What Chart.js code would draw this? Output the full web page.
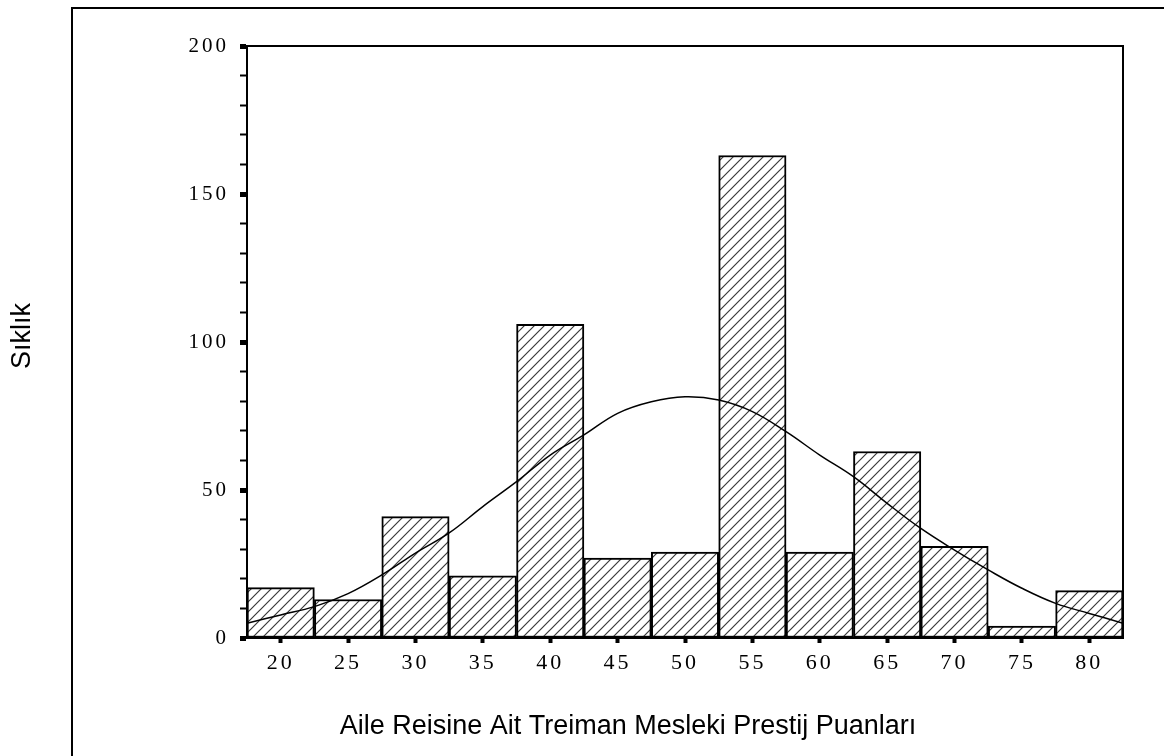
<!DOCTYPE html>
<html>
<head>
<meta charset="utf-8">
<script src="https://cdn.jsdelivr.net/npm/chart.js@4/dist/chart.umd.min.js"></script>
<style>
  html, body { margin: 0; padding: 0; background: #fff; }
  #wrap { width: 1164px; height: 756px; }
</style>
</head>
<body>
<div id="wrap"><canvas id="histChart" width="1164" height="756"></canvas></div>
<script>
// bins (midpoints) and counts
const categories = ['20', '25', '30', '35', '40', '45', '50', '55', '60', '65', '70', '75', '80'];
const frequencies = [17, 13, 41, 21, 106, 27, 29, 163, 29, 63, 31, 4, 16];

// normal curve
const curveX = [17.5, 20, 22.5, 25, 27.5, 30, 32.5, 35, 37.5, 40, 42.5, 45, 47.5, 50,
                52.5, 55, 57.5, 60, 62.5, 65, 67.5, 70, 72.5, 75, 77.5, 80, 82.5];
const curveY = [5, 7.8, 10.6, 15, 21.3, 28.7, 35.5, 44.4, 52.8, 61.8, 68.6, 75.9, 79.8, 81.5,
                80.4, 76.5, 69.7, 61.8, 54.5, 45.5, 37, 29.7, 23, 16.8, 11.7, 8.3, 5];

const yMax = 200;
const yStep = 10;
const yLabelEvery = 50;

const xTitle = 'Aile Reisine Ait Treiman Mesleki Prestij Puanları';
const yTitle = 'Sıklık';

function makeHatch() {
  const s = 10;
  const c = document.createElement('canvas');
  c.width = s; c.height = s;
  const g = c.getContext('2d');
  g.fillStyle = '#fff';
  g.fillRect(0, 0, s, s);
  g.strokeStyle = '#3a3a3a';
  g.lineWidth = 1.2;
  g.beginPath();
  g.moveTo(0, s); g.lineTo(s, 0);
  g.moveTo(-2, 2); g.lineTo(2, -2);
  g.moveTo(s - 2, s + 2); g.lineTo(s + 2, s - 2);
  g.stroke();
  return g.createPattern(c, 'repeat');
}

const spacing = {
  id: 'spacing',
  beforeLayout(chart) { chart.ctx.letterSpacing = '3px'; },
  beforeDraw(chart) { chart.ctx.letterSpacing = '3px'; }
};

const frame = {
  id: 'frame',
  afterDraw(chart) {
    const { ctx, chartArea: a } = chart;
    ctx.save();
    ctx.letterSpacing = '0px';
    ctx.strokeStyle = '#000';
    ctx.lineWidth = 2;
    ctx.strokeRect(a.left, a.top, a.right - a.left, a.bottom - a.top);
    // outer box, runs off the right and bottom edges
    ctx.strokeRect(72, 8, 1200, 800);

    ctx.fillStyle = '#000';
    ctx.font = '27px "Liberation Sans", Arial, sans-serif';
    ctx.textAlign = 'center';
    ctx.textBaseline = 'middle';
    ctx.fillText(xTitle, 628, 727);
    ctx.translate(23, 336);
    ctx.rotate(-Math.PI / 2);
    ctx.fillText(yTitle, 0, 0);
    ctx.restore();
  }
};

const serif = '"Liberation Serif", "Times New Roman", serif';

new Chart(document.getElementById('histChart'), {
  data: {
    labels: categories,
    datasets: [
      {
        type: 'line',
        data: curveX.map((x, i) => ({ x: x, y: curveY[i] })),
        xAxisID: 'xl',
        borderColor: '#000',
        borderWidth: 1.5,
        pointRadius: 0,
        tension: 0.4,
        order: 0
      },
      {
        type: 'bar',
        data: frequencies,
        xAxisID: 'x',
        grouped: false,
        backgroundColor: makeHatch(),
        borderColor: '#000',
        borderWidth: 2,
        borderSkipped: false,
        barPercentage: 1,
        categoryPercentage: 1,
        order: 1
      }
    ]
  },
  options: {
    responsive: false,
    animation: false,
    layout: { padding: { top: 46, right: 41, left: 0, bottom: 0 } },
    plugins: { legend: { display: false }, tooltip: { enabled: false } },
    scales: {
      x: {
        type: 'category',
        offset: true,
        afterFit(s) { s.height = 118; },
        border: { display: true, color: '#000', width: 2 },
        grid: { offset: false, drawOnChartArea: false, tickLength: 5, tickWidth: 4, tickColor: '#000' },
        ticks: { color: '#000', font: { family: serif, size: 22 }, padding: 7, maxRotation: 0 }
      },
      xl: {
        type: 'linear',
        display: false,
        min: 17.5,
        max: 82.5
      },
      y: {
        min: 0,
        max: yMax,
        afterFit(s) { s.width = 247; },
        border: { display: true, color: '#000', width: 2 },
        grid: {
          drawOnChartArea: false,
          tickLength: 7,
          tickColor: '#000',
          tickWidth: c => (c.tick && c.tick.value % yLabelEvery === 0 ? 5 : 2)
        },
        ticks: {
          stepSize: yStep,
          color: '#000',
          padding: 11,
          font: { family: serif, size: 21 },
          callback: v => (v % yLabelEvery === 0 ? String(v) : '')
        }
      }
    }
  },
  plugins: [spacing, frame]
});
</script>
</body>
</html>
